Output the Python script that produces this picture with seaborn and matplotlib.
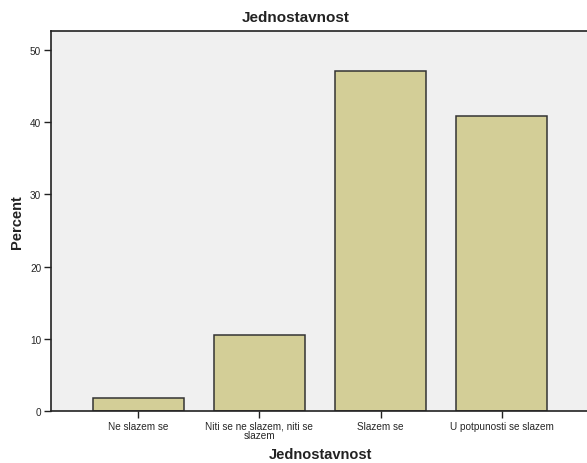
import seaborn as sns
import matplotlib.pyplot as plt
import pandas as pd

categories = ['Ne slazem se', 'Niti se ne slazem, niti se\nslazem', 'Slazem se', 'U potpunosti se slazem']
percent = [1.8, 10.5, 47.0, 40.9]

sns.set_style('ticks')
plt.rcParams['font.family'] = ['Liberation Sans', 'DejaVu Sans']

t = pd.DataFrame({'Jednostavnost': categories, 'Percent': percent})

fig = plt.figure(figsize=(5.87, 4.64), dpi=100)
ax = fig.add_axes([0.0869, 0.112, 0.9165, 0.819])
ax.set_facecolor('#f0f0f0')

sns.barplot(t, x='Jednostavnost', y='Percent', color='#d3ce97', width=0.75,
            edgecolor='#333333', linewidth=1.1, saturation=1, ax=ax)

ax.set_xlim(-0.72, 3.72)
ax.set_ylim(0, 52.6)
ax.set_yticks([0, 10, 20, 30, 40, 50])
ax.tick_params(axis='both', labelsize=7.2, length=5, width=1, color='#222222', pad=2)
for s in ax.spines.values():
    s.set_color('#222222')
    s.set_linewidth(1.2)

# title sits centred on the figure, not on the axes
fig.text(0.503, 0.962, 'Jednostavnost', ha='center', va='center',
         fontsize=11, fontweight='bold', color='#222222')
ax.set_xlabel('Jednostavnost', fontsize=10.5, fontweight='bold', color='#222222', labelpad=5)
ax.set_ylabel('Percent', fontsize=10.5, fontweight='bold', color='#222222', labelpad=4)
for lbl in ax.get_xticklabels():
    lbl.set_linespacing(0.9)

fig.savefig('out.png', dpi=100)
